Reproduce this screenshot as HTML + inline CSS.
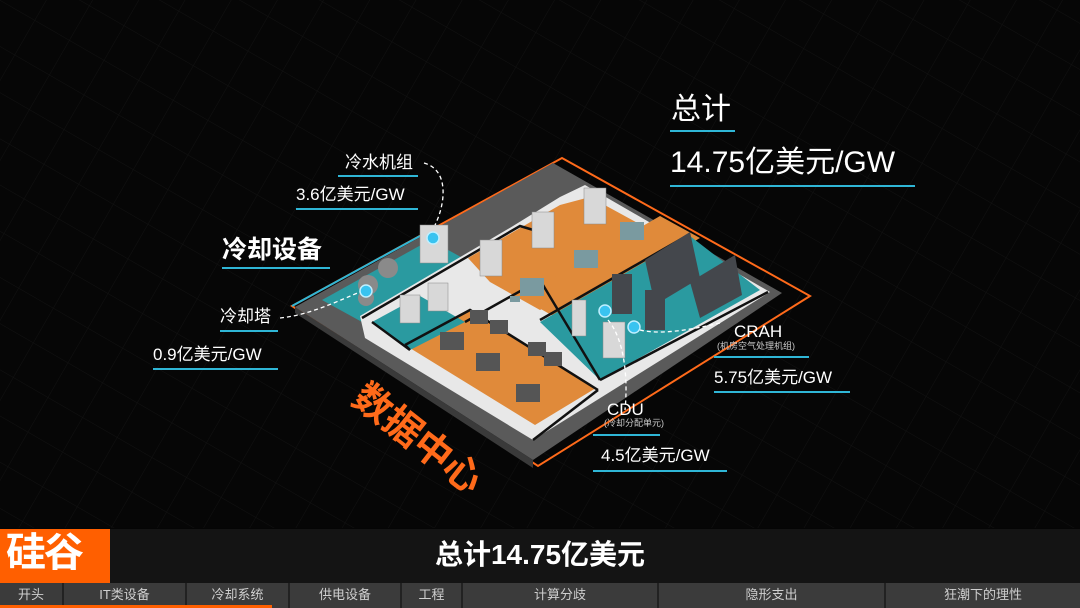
<!DOCTYPE html>
<html><head><meta charset="utf-8"><style>
html,body{margin:0;padding:0;background:#000;}
#w{position:relative;width:1080px;height:608px;overflow:hidden;background:#050505;font-family:"Liberation Sans","Noto Sans CJK SC",sans-serif;color:#fff;}
.t{position:absolute;white-space:nowrap;color:#fff;line-height:1;}
.u{position:absolute;height:2px;background:#2fb6d6;}
.nav{position:absolute;top:583px;height:25px;background:#3b3b3b;color:#cfcfcf;font-size:13px;text-align:center;line-height:24px;border-left:2px solid #222;box-sizing:border-box;}
</style></head><body><div id="w">
<svg width="1080" height="528" style="position:absolute;left:0;top:0">
<defs>
<pattern id="g" width="40" height="40" patternUnits="userSpaceOnUse" patternTransform="rotate(30)">
<path d="M0 0H40M0 0V40" stroke="#1a1a1a" stroke-width="1"/></pattern>
</defs>
<rect width="1080" height="528" fill="#060606"/>
<rect width="1080" height="528" fill="url(#g)" opacity="0.6"/>
<!-- orange outline -->
<polygon points="292,306 562,158 810,296 538,466" fill="none" stroke="#ff6a1a" stroke-width="2"/>
<polygon points="292,306 420,236" stroke="#2fb6d6" stroke-width="2" fill="none"/>
<!-- gray slab -->
<polygon points="295,307 553,163 782,293 533,460" fill="#5a5a5a"/>
<polygon points="295,307 533,460 533,468 295,313" fill="#3a3a3a"/>
<!-- teal cooling zone -->
<polygon points="322,300 430,240 470,262 362,322" fill="#2a9aa0"/>
<!-- white walls block -->
<polygon points="360,316 513,226 560,197 585,185 770,292 533,440 365,338" fill="#e8e8e8"/>
<!-- big orange zone top -->
<polygon points="468,258 560,205 590,197 665,238 540,310 490,282" fill="#e08a3a"/>
<polygon points="520,297 660,216 700,238 560,320" fill="#e08a3a"/>
<!-- right teal room -->
<polygon points="540,322 690,236 760,290 600,380" fill="#2a9aa0"/>
<!-- bottom orange room -->
<polygon points="405,345 470,310 596,388 535,425" fill="#e08a3a"/>
<!-- left small teal room with chillers -->
<polygon points="372,322 420,296 465,322 410,350" fill="#2a9aa0"/>
<!-- inner dark wall lines -->
<g stroke="#111" stroke-width="2.5" fill="none">
<polyline points="362,318 520,226 540,232"/>
<polyline points="372,322 410,350 405,345"/>
<polyline points="405,345 470,310 598,390"/>
<polyline points="465,322 540,280 600,380"/>
<polyline points="540,320 690,234"/>
<polyline points="600,380 768,292"/>
<polyline points="533,440 598,390"/>
</g>
<!-- equipment approximations -->
<g fill="#d8d8d8" stroke="#888" stroke-width="0.5">
<rect x="480" y="240" width="22" height="36"/><rect x="532" y="212" width="22" height="36"/><rect x="584" y="188" width="22" height="36"/>
<rect x="420" y="225" width="28" height="38"/>
<rect x="400" y="295" width="20" height="28"/><rect x="428" y="283" width="20" height="28"/>
<rect x="572" y="300" width="14" height="36"/><rect x="603" y="322" width="22" height="36"/>
</g>
<g fill="#7a9aa0"><rect x="520" y="278" width="24" height="18"/><rect x="574" y="250" width="24" height="18"/><rect x="620" y="222" width="24" height="18"/><rect x="510" y="296" width="10" height="6"/></g>
<g fill="#8a8a8a"><circle cx="368" cy="285" r="10"/><circle cx="388" cy="268" r="10"/><circle cx="366" cy="298" r="8"/></g>
<g fill="#44474c"><polygon points="645,260 690,232 700,278 655,305"/><polygon points="690,282 735,255 742,295 700,318"/><rect x="612" y="274" width="20" height="40"/><rect x="645" y="290" width="20" height="40"/></g>
<g fill="#555"><rect x="440" y="332" width="24" height="18"/><rect x="476" y="353" width="24" height="18"/><rect x="516" y="384" width="24" height="18"/><rect x="470" y="310" width="18" height="14"/><rect x="490" y="320" width="18" height="14"/><rect x="528" y="342" width="18" height="14"/><rect x="544" y="352" width="18" height="14"/></g>
<g fill="#39c3f0" stroke="#bfefff" stroke-width="1.5"><circle cx="433" cy="238" r="6"/><circle cx="366" cy="291" r="6"/><circle cx="605" cy="311" r="6"/><circle cx="634" cy="327" r="6"/></g>
<!-- dashed connectors -->
<g stroke="#fff" stroke-width="1.3" fill="none" stroke-dasharray="4,3">
<path d="M424,163 C450,170 445,205 435,225"/>
<path d="M280,318 C310,315 340,300 360,292"/>
<path d="M640,330 C660,335 690,330 720,323"/>
<path d="M608,320 C625,340 628,380 625,410"/>
</g>
<text x="0" y="0" fill="#ff6a1a" font-size="38" font-weight="bold" font-family="Liberation Sans,Noto Sans CJK SC,sans-serif" transform="translate(350,402) rotate(38)">数据中心</text>
</svg>
<div class="t" style="left:671px;top:95px;font-size:30px;">总计</div><div class="u" style="left:670px;top:130px;width:65px"></div>
<div class="t" style="left:670px;top:148px;font-size:30px;">14.75亿美元/GW</div><div class="u" style="left:670px;top:185px;width:245px"></div>
<div class="t" style="left:345px;top:154px;font-size:17px;">冷水机组</div><div class="u" style="left:338px;top:175px;width:80px"></div>
<div class="t" style="left:296px;top:186px;font-size:17px;">3.6亿美元/GW</div><div class="u" style="left:296px;top:208px;width:122px"></div>
<div class="t" style="left:222px;top:238px;font-size:25px;font-weight:bold;">冷却设备</div><div class="u" style="left:222px;top:267px;width:108px"></div>
<div class="t" style="left:220px;top:308px;font-size:17px;">冷却塔</div><div class="u" style="left:220px;top:330px;width:58px"></div>
<div class="t" style="left:153px;top:346px;font-size:17px;">0.9亿美元/GW</div><div class="u" style="left:153px;top:368px;width:125px"></div>
<div class="t" style="left:734px;top:323px;font-size:17px;">CRAH</div>
<div class="t" style="left:717px;top:342px;font-size:9px;color:#ccc;">(机房空气处理机组)</div><div class="u" style="left:714px;top:356px;width:95px"></div>
<div class="t" style="left:714px;top:369px;font-size:17px;">5.75亿美元/GW</div><div class="u" style="left:714px;top:391px;width:136px"></div>
<div class="t" style="left:607px;top:401px;font-size:17px;">CDU</div>
<div class="t" style="left:604px;top:419px;font-size:9px;color:#ccc;">(冷却分配单元)</div><div class="u" style="left:593px;top:434px;width:67px"></div>
<div class="t" style="left:601px;top:447px;font-size:17px;">4.5亿美元/GW</div><div class="u" style="left:593px;top:470px;width:134px"></div>
<div style="position:absolute;left:0;top:529px;width:1080px;height:54px;background:#141414;"></div>
<div style="position:absolute;left:0;top:529px;width:110px;height:54px;background:#ff5f00;"></div>
<div class="t" style="left:6px;top:533px;font-size:40px;font-weight:bold;letter-spacing:-2px;">硅谷</div>
<div class="t" style="left:0;width:1080px;text-align:center;top:541px;font-size:28px;font-weight:bold;">总计14.75亿美元</div>
<div class="nav" style="left:0;width:62px;border-left:none">开头</div>
<div class="nav" style="left:62px;width:123px">IT类设备</div>
<div class="nav" style="left:185px;width:103px">冷却系统</div>
<div class="nav" style="left:288px;width:112px">供电设备</div>
<div class="nav" style="left:400px;width:61px">工程</div>
<div class="nav" style="left:461px;width:196px">计算分歧</div>
<div class="nav" style="left:657px;width:227px">隐形支出</div>
<div class="nav" style="left:884px;width:196px">狂潮下的理性</div>
<div style="position:absolute;left:0;top:605px;width:272px;height:3px;background:#ff5f00;"></div>
</div></body></html>
